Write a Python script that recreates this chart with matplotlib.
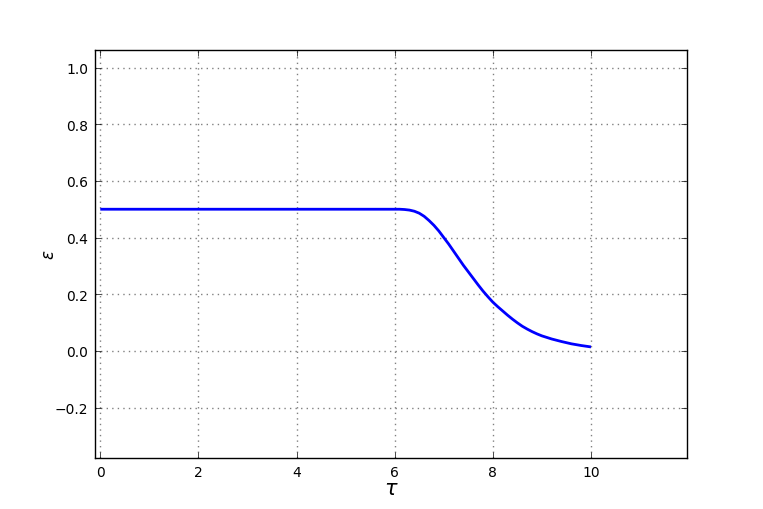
import matplotlib
matplotlib.use("Agg")
import matplotlib.pyplot as plt

tau = [0.0, 6.0, 6.1, 6.2, 6.3, 6.4, 6.5, 6.6, 6.7, 6.8, 6.9, 7.0, 7.1, 7.2, 7.3,
       7.4, 7.5, 7.6, 7.7, 7.8, 7.9, 8.0, 8.1, 8.2, 8.3, 8.4, 8.5, 8.6, 8.7, 8.8,
       8.9, 9.0, 9.2, 9.4, 9.6, 9.8, 10.0]
eps = [0.5, 0.5, 0.5, 0.499, 0.497, 0.493, 0.486, 0.475, 0.46, 0.443, 0.423, 0.40,
       0.377, 0.352, 0.327, 0.302, 0.279, 0.256, 0.233, 0.211, 0.191, 0.172, 0.156,
       0.141, 0.126, 0.112, 0.099, 0.087, 0.077, 0.068, 0.060, 0.053, 0.042, 0.033,
       0.025, 0.019, 0.014]
xticks = [0, 2, 4, 6, 8, 10]
yticks = [-0.2, 0.0, 0.2, 0.4, 0.6, 0.8, 1.0]
yticklabels = ['\u22120.2', '0.0', '0.2', '0.4', '0.6', '0.8', '1.0']

plt.rcParams['font.family'] = ['DejaVu Sans']
plt.rcParams['mathtext.fontset'] = 'dejavusans'

fig = plt.figure(figsize=(7.63, 5.10), dpi=100, facecolor='white')
ax = fig.add_axes([0.125, 0.1, 0.775, 0.8])
ax.plot(tau, eps, color=(0, 0, 1), linewidth=2.0, solid_capstyle='butt',
        solid_joinstyle='round')
ax.set_xlim(-0.1, 11.95)
ax.set_ylim(-0.378, 1.062)
ax.set_xticks(xticks)
ax.set_yticks(yticks)
ax.set_yticklabels(yticklabels)
ax.grid(True, color='#808080', linestyle=(0, (1, 3)), linewidth=1.0)
ax.tick_params(direction='in', length=4, width=0.5, labelsize=10, pad=5,
               top=True, right=True)
for s in ax.spines.values():
    s.set_linewidth(1.0)
ax.set_xlabel(r'$\tau$', fontsize=15, labelpad=-1)
ax.set_ylabel(r'$\varepsilon$', fontsize=12, labelpad=-2, rotation=90)
fig.savefig('out.png', dpi=100, facecolor='white')
